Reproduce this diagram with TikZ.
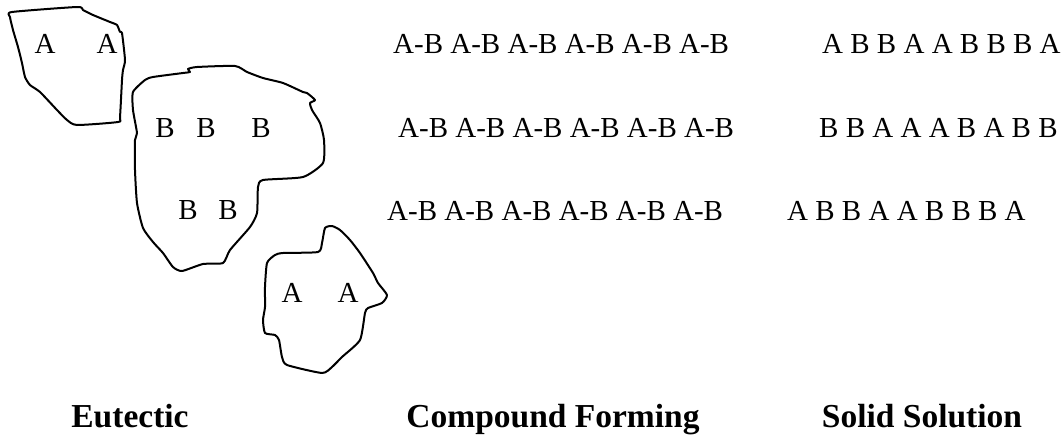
\documentclass[tikz,border=0pt]{standalone}
\usepackage{fontspec}
\setmainfont{Liberation Serif}
\begin{document}
\begin{tikzpicture}[x=1pt,y=-1pt,
  txt/.style={inner sep=0pt,font=\fontsize{29}{34}\selectfont},
  lbl/.style={inner sep=0pt,anchor=base,font=\fontsize{33.5}{40}\selectfont\bfseries},
  grain/.style={draw=black,line width=2pt,line join=round}]
\useasboundingbox (0,0) rectangle (1064,434);
% grains
\draw[grain] plot[smooth cycle,tension=0.35] coordinates {
 (12,12) (77,7) (83,10) (93,15) (110,22) (117,25) (120,32) (122,33)
 (125,60) (123,70) (122,80) (120,117) (118,122) (77,125) (67,120)
 (57,110) (40,92) (30,85) (25,77) (22,63) (18,47) (13,30) (10,17)};
\draw[grain] plot[smooth cycle,tension=0.35] coordinates {
 (145,80) (153,77) (183,73) (190,72) (188,69) (197,67) (235,66) (247,72)
 (263,78) (283,83) (303,92) (307,93) (315,100) (310,103) (312,110)
 (320,123) (324,140) (323,163) (303,177) (263,180) (258,187) (257,213)
 (250,227) (230,250) (223,263) (203,264) (182,271) (173,267) (163,253)
 (153,242) (143,228) (137,203) (135,170) (135,140) (137,133) (133,110)
 (133,92)};
\draw[grain] plot[smooth cycle,tension=0.35] coordinates {
 (267,263) (275,255) (283,253) (318,252) (322,243) (325,228) (332,226)
 (340,230) (350,240) (360,253) (373,273) (378,283) (387,295) (382,303)
 (368,308) (365,313) (360,340) (342,357) (332,367) (322,373) (287,365)
 (282,357) (279,340) (275,335) (265,333) (263,320) (265,307) (265,287)};
% letters in grains
\node[txt,anchor=base] (a1) at (45,53) {A};
\node[txt,anchor=base] (a2) at (107,53) {A};
\node[txt,anchor=base] (b1) at (165,137) {B};
\node[txt,anchor=base] (b2) at (206,137) {B};
\node[txt,anchor=base] (b3) at (261,137) {B};
\node[txt,anchor=base] (b4) at (188,219) {B};
\node[txt,anchor=base] (b5) at (228,219) {B};
\node[txt,anchor=base] (a3) at (292,302) {A};
\node[txt,anchor=base] (a4) at (348,302) {A};
% compound rows
\node[txt,anchor=base west] (c1) at (393,53) {A-B A-B A-B A-B A-B A-B};
\node[txt,anchor=base west] (c2) at (398,137) {A-B A-B A-B A-B A-B A-B};
\node[txt,anchor=base west] (c3) at (387,220) {A-B A-B A-B A-B A-B A-B};
% solid solution rows
\node[txt,anchor=base west] (s1) at (822,53) {A B B A A B B B A};
\node[txt,anchor=base west] (s2) at (819,137) {B B A A A B A B B};
\node[txt,anchor=base west] (s3) at (787,220) {A B B A A B B B A};
% labels
\node[lbl] (l1) at (130,427) {Eutectic};
\node[lbl] (l2) at (553,427) {Compound Forming};
\node[lbl] (l3) at (922,427) {Solid Solution};
\end{tikzpicture}
\end{document}
